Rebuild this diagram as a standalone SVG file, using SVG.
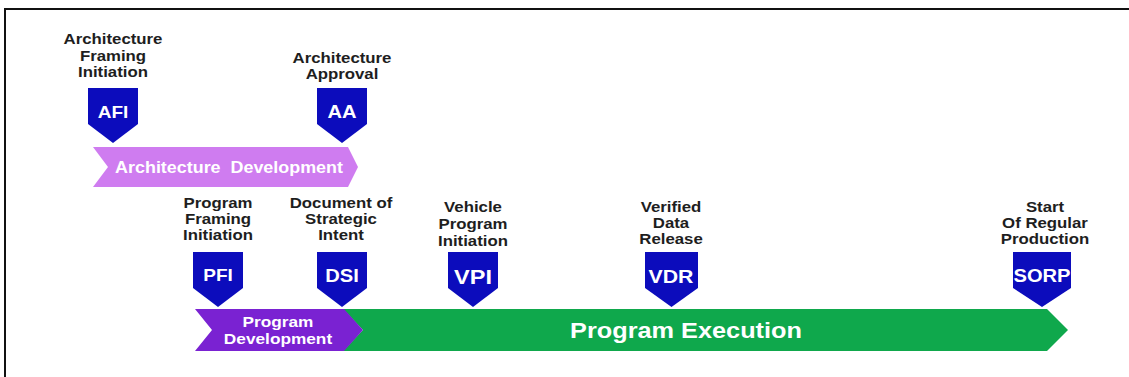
<svg xmlns="http://www.w3.org/2000/svg" width="1129" height="377" viewBox="0 0 1129 377">
<defs>
<style>
.lbl{font-family:"Liberation Sans",Arial,sans-serif;font-weight:bold;font-size:15px;fill:#1e1e1e;text-anchor:middle}
.ms{fill:#0c0cbc}
.mt{font-family:"Liberation Sans",Arial,sans-serif;font-weight:bold;fill:#ffffff;text-anchor:middle}
.pt{font-family:"Liberation Sans",Arial,sans-serif;font-weight:bold;fill:#ffffff;text-anchor:middle}
</style>
</defs>
<rect width="1129" height="377" fill="#ffffff"/>
<rect x="5" y="9" width="1140" height="380" fill="none" stroke="#111111" stroke-width="2"/>

<g id="phase-architecture-development">
<polygon points="93,147 348,147 358,167 348,187 93,187 108,167" fill="#cf7cf0"/>
<text class="pt" font-size="16" transform="translate(229,173) scale(1.12,1)" xml:space="preserve">Architecture  Development</text>
</g>

<g id="phase-program-execution">
<polygon points="343,309 1047,309 1068,330 1047,351 343,351 363,330" fill="#0fa84c"/>
<text class="pt" font-size="22" transform="translate(686,338) scale(1.15,1)">Program Execution</text>
</g>

<g id="phase-program-development">
<polygon points="195,309 344,309 363,330 344,351 195,351 212,330" fill="#7a22d2"/>
<g transform="translate(278,0) scale(1.15,1)">
<text class="pt" font-size="15" x="0" y="327">Program</text>
<text class="pt" font-size="15" x="0" y="344">Development</text>
</g>
</g>

<g id="node-AFI">
<g transform="translate(113,0) scale(1.12,1)">
<text class="lbl" x="0" y="44">Architecture</text>
<text class="lbl" x="0" y="61">Framing</text>
<text class="lbl" x="0" y="77">Initiation</text>
</g>
<path class="ms" d="M88,88 H138 V124 L113,143 L88,124 Z"/>
<text class="mt" font-size="17" transform="translate(113,118) scale(1.12,1)">AFI</text>
</g>

<g id="node-AA">
<g transform="translate(342,0) scale(1.12,1)">
<text class="lbl" x="0" y="63">Architecture</text>
<text class="lbl" x="0" y="79">Approval</text>
</g>
<path class="ms" d="M317,88 H367 V124 L342,143 L317,124 Z"/>
<text class="mt" font-size="18" transform="translate(342,118) scale(1.12,1)">AA</text>
</g>

<g id="node-PFI">
<g transform="translate(218,0) scale(1.12,1)">
<text class="lbl" x="0" y="208">Program</text>
<text class="lbl" x="0" y="224">Framing</text>
<text class="lbl" x="0" y="240">Initiation</text>
</g>
<path class="ms" d="M193,252 H243 V288 L218,307 L193,288 Z"/>
<text class="mt" font-size="17" transform="translate(218,281) scale(1.12,1)">PFI</text>
</g>

<g id="node-DSI">
<g transform="translate(341,0) scale(1.12,1)">
<text class="lbl" x="0" y="208">Document of</text>
<text class="lbl" x="0" y="224">Strategic</text>
<text class="lbl" x="0" y="240">Intent</text>
</g>
<path class="ms" d="M317,252 H367 V288 L342,307 L317,288 Z"/>
<text class="mt" font-size="18" transform="translate(342,282) scale(1.12,1)">DSI</text>
</g>

<g id="node-VPI">
<g transform="translate(473,0) scale(1.12,1)">
<text class="lbl" x="0" y="212">Vehicle</text>
<text class="lbl" x="0" y="229">Program</text>
<text class="lbl" x="0" y="246">Initiation</text>
</g>
<path class="ms" d="M448,252 H498 V288 L473,307 L448,288 Z"/>
<text class="mt" font-size="21" transform="translate(473,284) scale(1.12,1)">VPI</text>
</g>

<g id="node-VDR">
<g transform="translate(671,0) scale(1.12,1)">
<text class="lbl" x="0" y="212">Verified</text>
<text class="lbl" x="0" y="228">Data</text>
<text class="lbl" x="0" y="244">Release</text>
</g>
<path class="ms" d="M645,252 H698 V288 L671.5,307 L645,288 Z"/>
<text class="mt" font-size="19" transform="translate(671,283) scale(1.12,1)">VDR</text>
</g>

<g id="node-SORP">
<g transform="translate(1045,0) scale(1.12,1)">
<text class="lbl" x="0" y="212">Start</text>
<text class="lbl" x="0" y="228">Of Regular</text>
<text class="lbl" x="0" y="244">Production</text>
</g>
<path class="ms" d="M1013,252 H1071 V288 L1042,307 L1013,288 Z"/>
<text class="mt" font-size="18" transform="translate(1042,282) scale(1.12,1)">SORP</text>
</g>

<g id="connectors"></g>
</svg>
